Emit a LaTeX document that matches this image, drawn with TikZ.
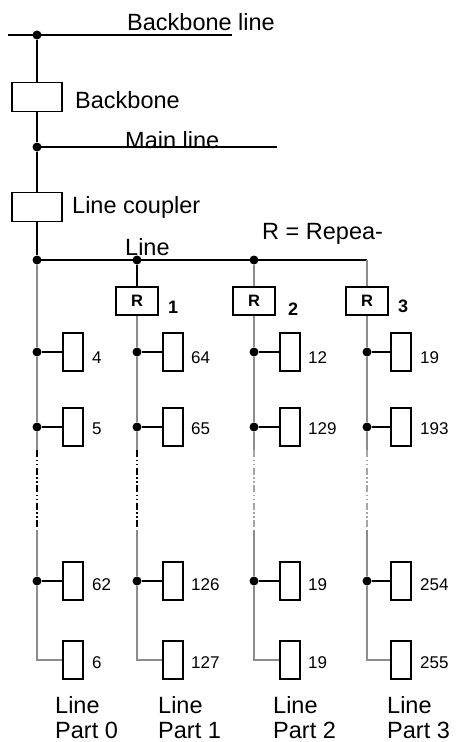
\documentclass[tikz,border=0pt]{standalone}
\usepackage{fontspec}
\setmainfont{Liberation Sans}
\begin{document}
\begin{tikzpicture}[x=1pt,y=-1pt,
  wire/.style={line width=1.6pt},
  gwire/.style={line width=1.6pt, color=black!45},
  bigbox/.style={draw, line width=1.6pt, minimum width=50pt, minimum height=29pt, inner sep=0pt},
  rbox/.style={draw, line width=1.6pt, minimum width=42pt, minimum height=28pt, inner sep=0pt, font=\fontsize{16.5}{18}\selectfont\bfseries},
  dev/.style={draw, line width=1.6pt, minimum width=20pt, minimum height=38pt, inner sep=0pt},
  dot/.style={circle, fill=black, inner sep=0pt, minimum size=9pt},
  lbl/.style={anchor=base west, inner sep=0pt, font=\fontsize{23.5}{28}\selectfont},
  num/.style={anchor=base west, inner sep=0pt, font=\fontsize{17}{20}\selectfont},
  rnum/.style={anchor=base west, inner sep=0pt, font=\fontsize{18}{20}\selectfont\bfseries},
  dashseg/.style={line width=1.6pt, dash pattern=on 7pt off 2.5pt on 1.5pt off 2.5pt on 1.5pt off 2.5pt},
]
\useasboundingbox (0,0) rectangle (456,742);
% backbone line
\coordinate (bbL) at (8,35);
\coordinate (bbR) at (232,35);
\draw[wire] (bbL) -- (bbR);
\node[dot] (d0) at (37,35) {};
\node[lbl] (tbb) at (127,30) {Backbone line};
% backbone coupler
\node[bigbox] (bb) at (37,97) {};
\node[lbl] (tbk) at (75,108) {Backbone};
% main line
\node[dot] (d1) at (37,147) {};
\coordinate (mlR) at (277,147);
\draw[wire] (d1.center) -- (mlR);
\node[lbl] (tml) at (125,148) {Main line};
% line coupler
\node[bigbox] (lc) at (37,207) {};
\node[lbl] (tlc) at (72,213) {Line coupler};
\draw[wire] (d0) -- (bb.north);
\draw[wire] (bb.south) -- (d1) -- (lc.north);
% line bus
\node[dot] (L0) at (37,260) {};
\node[dot] (L1) at (137,260) {};
\node[dot] (L2) at (254,260) {};
\coordinate (C3) at (367,260);
\draw[wire] (lc.south) -- (L0);
\draw[wire] (L0.center) -- (C3);
\node[lbl] (trep) at (262,239) {R = Repea-};
\node[lbl] (tline) at (125,255) {Line};
% repeaters
\node[rbox] (R1) at (137,301) {R};
\node[rbox] (R2) at (254,301) {R};
\node[rbox] (R3) at (367,301) {R};
\node[rnum] (n1) at (168,313) {1};
\node[rnum] (n2) at (288,315) {2};
\node[rnum] (n3) at (398,312) {3};
\draw[wire] (L1) -- (R1.north);
\draw[gwire] (L2) -- (R2.north);
\draw[gwire] (C3) -- (R3.north);
% columns
\foreach \c/\x/\bx/\lx/\a/\b/\cc/\d/\dc in {0/37/73/92/4/5/62/6/black, 1/137/173/191/64/65/126/127/black, 2/254/290/308/12/129/19/19/black!35, 3/367/401/420/19/193/254/255/black!35} {
  \node[dot] (p\c-1) at (\x,352) {};
  \node[dot] (p\c-2) at (\x,427) {};
  \node[dot] (p\c-3) at (\x,581) {};
  \coordinate (p\c-4) at (\x,660);
  \coordinate (s\c) at (\x,450);
  \coordinate (e\c) at (\x,530);
  \node[dev] (b\c-1) at (\bx,352) {};
  \node[dev] (b\c-2) at (\bx,427) {};
  \node[dev] (b\c-3) at (\bx,581) {};
  \node[dev] (b\c-4) at (\bx,660) {};
  \node[num] (t\c-1) at (\lx,363) {\a};
  \node[num] (t\c-2) at (\lx,434) {\b};
  \node[num] (t\c-3) at (\lx,590) {\cc};
  \node[num] (t\c-4) at (\lx,668) {\d};
  \draw[wire] (p\c-1) -- (b\c-1);
  \draw[wire] (p\c-2) -- (b\c-2);
  \draw[wire] (p\c-3) -- (b\c-3);
  \draw[gwire] (p\c-1) -- (p\c-2) -- (s\c);
  \draw[dashseg, color=\dc] (s\c) -- (e\c);
  \draw[gwire] (e\c) -- (p\c-3) -- (p\c-4) -- (b\c-4);
}
\draw[gwire] (L0) -- (p0-1);
\draw[gwire] (R1.south) -- (p1-1);
\draw[gwire] (R2.south) -- (p2-1);
\draw[gwire] (R3.south) -- (p3-1);
% bottom labels
\foreach \c/\x in {0/55, 1/158, 2/273, 3/387} {
  \node[lbl] (la\c) at (\x,713) {Line};
  \node[lbl] (lb\c) at (\x,738) {Part \c};
}
\end{tikzpicture}
\end{document}
